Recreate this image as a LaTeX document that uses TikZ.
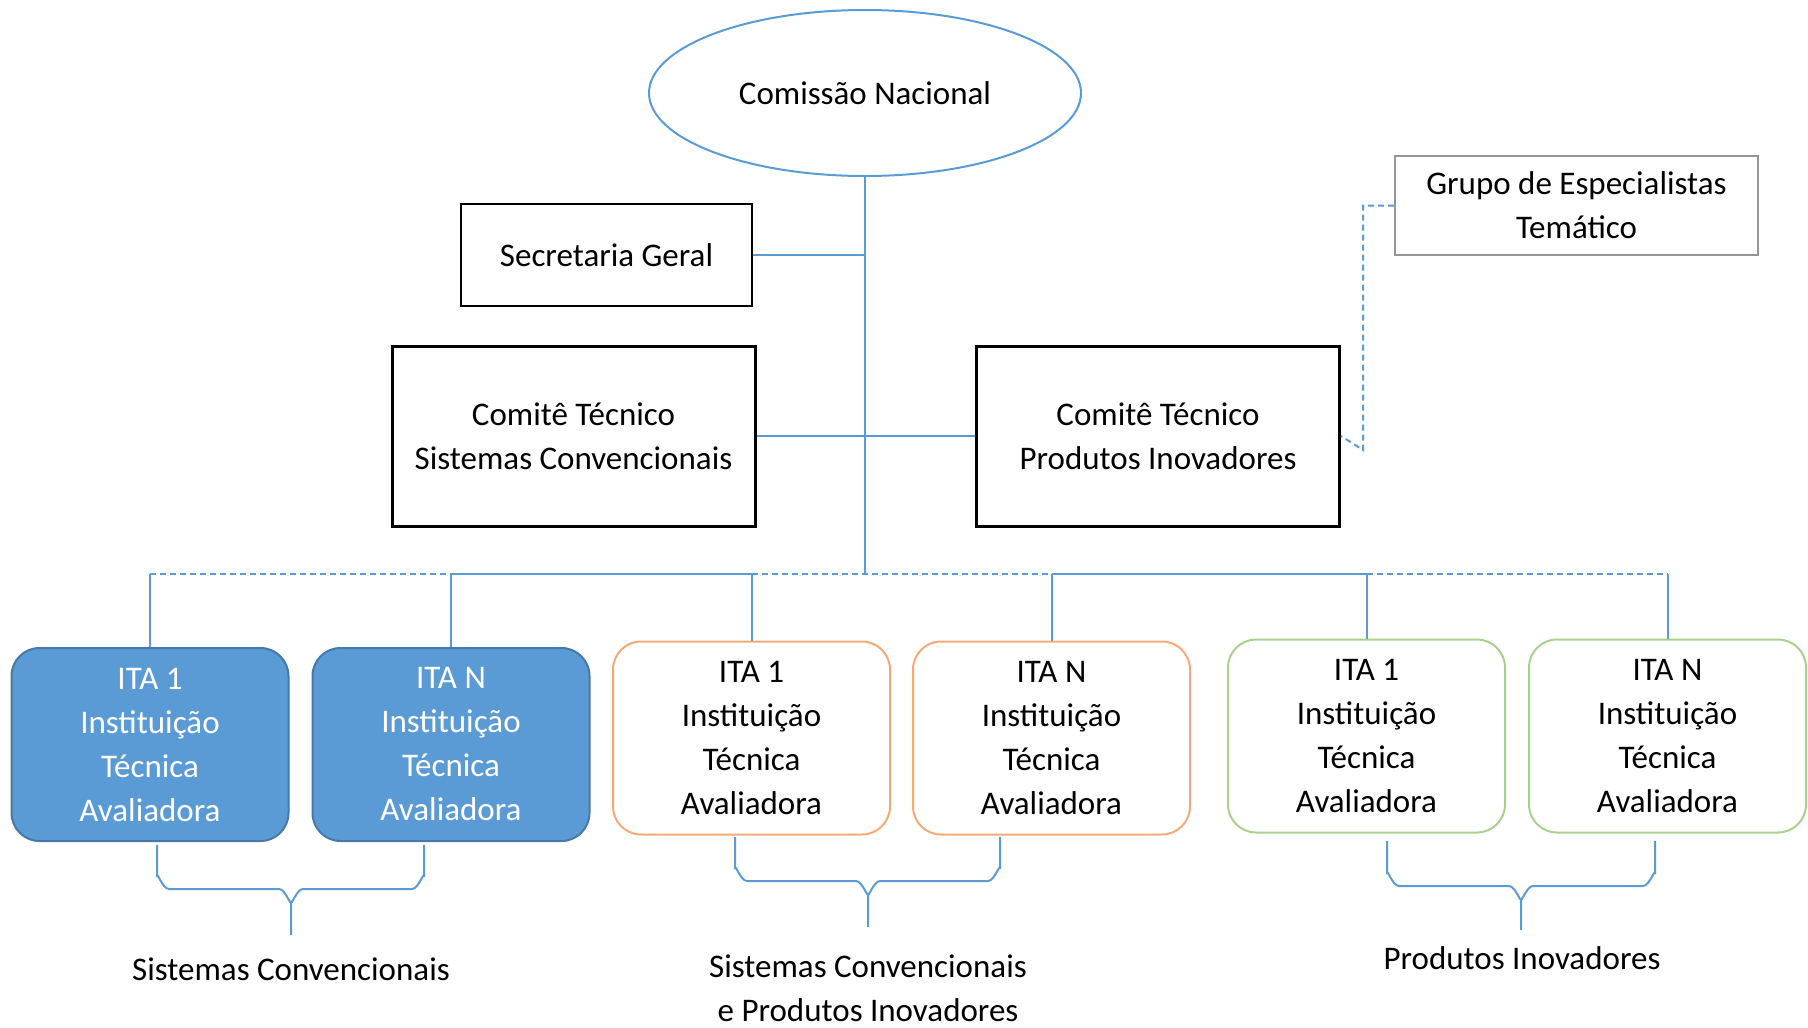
\documentclass[tikz,border=0pt]{standalone}
\usepackage{fontspec}
\setmainfont{Carlito}
\usepackage{tikz}
\usetikzlibrary{shapes.geometric}

\definecolor{lineblue}{RGB}{91,155,213}
\definecolor{itafill}{RGB}{91,155,213}
\definecolor{itadraw}{RGB}{70,120,170}
\definecolor{itaorange}{RGB}{244,170,120}
\definecolor{itagreen}{RGB}{169,209,142}
\definecolor{grupogray}{RGB}{150,150,150}

\tikzset{
  txt/.style={font=\fontsize{33}{44}\selectfont, align=center},
  conn/.style={draw=lineblue, line width=2pt},
  bracestyle/.style={draw=lineblue, line width=2pt},
  commbox/.style={txt, draw, line width=3pt, minimum width=363pt, minimum height=180pt},
  itabox/.style={txt, rounded corners=28pt, line width=2pt, minimum width=277pt, minimum height=193pt},
  itablue/.style={itabox, fill=itafill, draw=itadraw, text=white},
  itaorange/.style={itabox, draw=itaorange},
  itagreen/.style={itabox, draw=itagreen},
}

\begin{document}
\begin{tikzpicture}[x=1pt, y=-1pt]
\useasboundingbox (0,0) rectangle (1808,1028);
% Define the top of the chart
\node[txt, ellipse, draw=lineblue, line width=2pt, minimum width=432pt, minimum height=166pt] (comissao) at (865,93) {Comissão Nacional};
\node[txt, draw, line width=2pt, minimum width=291pt, minimum height=102pt] (secretaria) at (606.5,255) {Secretaria Geral};
\node[commbox] (ctsc) at (573.5,436) {Comitê Técnico\\Sistemas Convencionais};
\node[commbox] (ctpi) at (1158,436) {Comitê Técnico\\Produtos Inovadores};
\node[txt, draw=grupogray, line width=2pt, minimum width=363pt, minimum height=99pt] (grupo) at (1576.5,205.5) {Grupo de Especialistas\\Temático};
\coordinate (bus) at (865,574);
% Define the row of ITA boxes
\foreach \n/\x/\y/\t/\s in {ba/150/744.5/1/itablue, bb/451/744.5/N/itablue,
                            oa/751.5/738/1/itaorange, ob/1051.5/738/N/itaorange,
                            ga/1366.5/736/1/itagreen, gb/1667.5/736/N/itagreen}
    \node[\s] (\n) at (\x,\y) {ITA \t\\Instituição\\Técnica\\Avaliadora};
% Add the connectors
\draw[conn] (comissao.south) -- (bus);
\draw[conn] (secretaria.east) -- (secretaria.east -| bus);
\draw[conn] (ctsc.east) -- (ctpi.west);
\draw[conn, dashed, dash pattern=on 6pt off 4pt] (grupo.west) -| (1363,450) -- (ctpi.east);
\draw[conn, dash pattern=on 6pt off 4pt] (ba.north |- bus) -- (bb.north |- bus);
\draw[conn] (bb.north |- bus) -- (oa.north |- bus);
\draw[conn, dash pattern=on 6pt off 4pt] (oa.north |- bus) -- (ob.north |- bus);
\draw[conn] (ob.north |- bus) -- (ga.north |- bus);
\draw[conn, dash pattern=on 6pt off 4pt] (ga.north |- bus) -- (gb.north |- bus);
\foreach \n in {ba,bb,oa,ob,ga,gb}
    \draw[conn] (\n.north |- bus) -- (\n.north);
% Add the braces under the groups
\foreach \l/\r/\c/\top/\h/\tip in {157/424/291/845/889/935, 735/1000/868/837/881/927, 1387/1655/1521/841/886/930}
{
    \draw[bracestyle] (\l,\top) -- (\l,\h-12) to[out=90,in=180] (\l+12,\h) -- (\c-12,\h) to[out=0,in=-90] (\c,\h+12) -- (\c,\tip);
    \draw[bracestyle] (\r,\top) -- (\r,\h-12) to[out=90,in=0] (\r-12,\h) -- (\c+12,\h) to[out=180,in=-90] (\c,\h+12);
}
% Labels of the groups
\node[txt] (lblsc) at (291,969) {Sistemas Convencionais};
\node[txt] (lblscpi) at (868,988) {Sistemas Convencionais\\e Produtos Inovadores};
\node[txt] (lblpi) at (1522,958) {Produtos Inovadores};
\end{tikzpicture}
\end{document}
